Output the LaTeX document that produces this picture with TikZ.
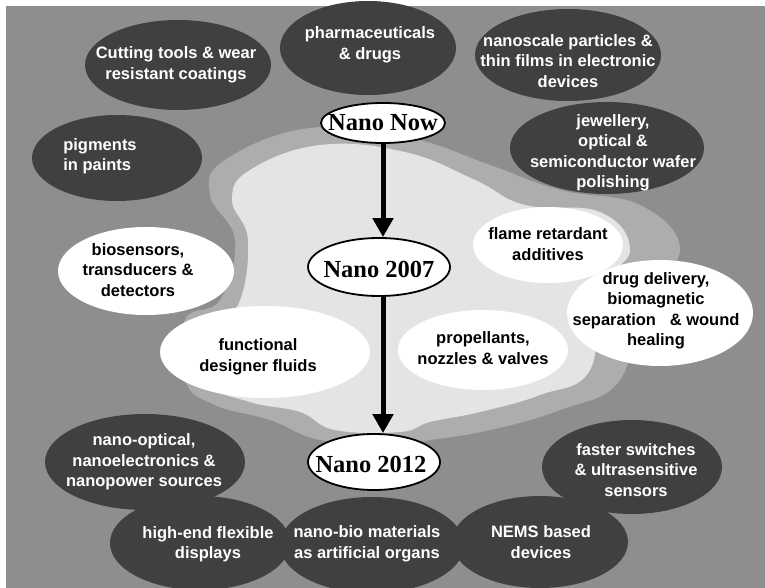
\documentclass[tikz,border=0pt]{standalone}
\usepackage{fontspec}
\setmainfont{Liberation Serif}
\setsansfont{Liberation Sans}
\usetikzlibrary{shapes.geometric,arrows.meta}
\definecolor{bggray}{HTML}{8E8E8E}
\definecolor{midgray}{HTML}{ADADAD}
\definecolor{lightcloud}{HTML}{E4E4E4}
\definecolor{darkblob}{HTML}{404040}
\begin{document}
\begin{tikzpicture}[x=1pt,y=-1pt,
  blobdark/.style={ellipse, fill=darkblob, inner sep=0pt},
  blobwhite/.style={ellipse, fill=white, inner sep=0pt},
  dtext/.style={text=white, font=\sffamily\bfseries\fontsize{16.5}{20.5}\selectfont, align=center, inner sep=0pt},
  ltext/.style={text=black, font=\sffamily\bfseries\fontsize{16.5}{20.5}\selectfont, align=center, inner sep=0pt},
  nanobox/.style={ellipse, draw=black, line width=1.8pt, fill=white, inner sep=0pt},
  nanotext/.style={font=\rmfamily\bfseries\fontsize{24.5}{28}\selectfont, inner sep=0pt},
  bigarrow/.style={line width=5pt, -{Triangle[length=19pt,width=20pt]}}]
\useasboundingbox (0,0) rectangle (765,588);
% background
\fill[bggray] (6,6) rectangle (765,588);
\fill[midgray] plot[smooth cycle, tension=0.7] coordinates {
  (225,160) (310,128) (410,138) (490,165) (560,190) (640,205) (680,250) (640,300)
  (620,380) (560,410) (490,430) (430,440) (390,445) (320,440) (270,420) (215,405)
  (185,380) (185,320) (220,300) (235,240) (210,195)};
\fill[lightcloud] plot[smooth cycle, tension=0.7] coordinates {
  (250,170) (320,145) (405,152) (475,180) (525,205) (600,212) (630,250) (600,290)
  (590,370) (540,395) (480,412) (430,422) (400,432) (335,430) (300,412) (250,402)
  (208,382) (205,330) (238,305) (248,240) (232,200)};
% white blobs
\node[blobwhite, minimum width=150, minimum height=76] (flameE) at (548,245) {};
\node[blobwhite, minimum width=170, minimum height=80] (propE) at (483,350) {};
\node[blobwhite, minimum width=176, minimum height=88] (bioE) at (146,271) {};
\node[blobwhite, minimum width=210, minimum height=92] (funcE) at (265,352) {};
\node[blobwhite, minimum width=186, minimum height=106] (drugE) at (660,313) {};
% dark blobs
\node[blobdark, minimum width=186, minimum height=90] (cutE) at (178,65) {};
\node[blobdark, minimum width=176, minimum height=94] (pharmE) at (368,48) {};
\node[blobdark, minimum width=186, minimum height=92] (partE) at (568,55) {};
\node[blobdark, minimum width=170, minimum height=86] (pigE) at (117,158) {};
\node[blobdark, minimum width=194, minimum height=92] (jewE) at (607,148) {};
\node[blobdark, minimum width=200, minimum height=96] (optE) at (145,462) {};
\node[blobdark, minimum width=180, minimum height=94] (dispE) at (200,543) {};
\node[blobdark, minimum width=184, minimum height=96] (organE) at (372,545) {};
\node[blobdark, minimum width=176, minimum height=92] (nemsE) at (540,542) {};
\node[blobdark, minimum width=180, minimum height=94] (switchE) at (632,467) {};
% Nano nodes
\node[nanobox, minimum width=124, minimum height=40] (now) at (383,123) {};
\node[nanobox, minimum width=142, minimum height=58] (y2007) at (379,267) {};
\node[nanobox, minimum width=132, minimum height=56] (y2012) at (374,462) {};
\node[nanotext] (nowT) at (now) {Nano Now};
\node[nanotext] (y2007T) at ([yshift=-2]y2007.center) {Nano 2007};
\node[nanotext] (y2012T) at ([xshift=-3,yshift=-2]y2012.center) {Nano 2012};
% arrows
\draw[bigarrow] (now.south) -- (now.south |- y2007.north);
\draw[bigarrow] (now.south |- y2007.south) -- (now.south |- y2012.north);
% texts
\node[dtext] (cut) at (176,65) {Cutting tools \& wear\\resistant coatings};
\node[dtext] (pharm) at (370,45) {pharmaceuticals\\\& drugs};
\node[dtext] (part) at (568,61) {nanoscale particles \&\\thin films in electronic\\devices};
\node[dtext, align=left] (pig) at (100,156) {pigments\\in paints};
\node[dtext] (jew) at (613,153) {jewellery,\\optical \&\\semiconductor wafer\\polishing};
\node[ltext] (bio) at (138,270) {biosensors,\\transducers \&\\detectors};
\node[ltext] (flame) at (548,244) {flame retardant\\additives};
\node[ltext] (drug) at (656,311) {drug delivery,\\biomagnetic\\separation\ \ \ \& wound\\healing};
\node[ltext] (func) at (258,357) {functional\\designer fluids};
\node[ltext] (prop) at (483,348) {propellants,\\nozzles \& valves};
\node[dtext] (opt) at (144,462) {nano-optical,\\nanoelectronics \&\\nanopower sources};
\node[dtext] (disp) at (208,544) {high-end flexible\\displays};
\node[dtext] (organ) at (367,544) {nano-bio materials\\as artificial organs};
\node[dtext] (nems) at (541,542) {NEMS based\\devices};
\node[dtext] (switch) at (636,470) {faster switches\\\& ultrasensitive\\sensors};
\end{tikzpicture}
\end{document}
